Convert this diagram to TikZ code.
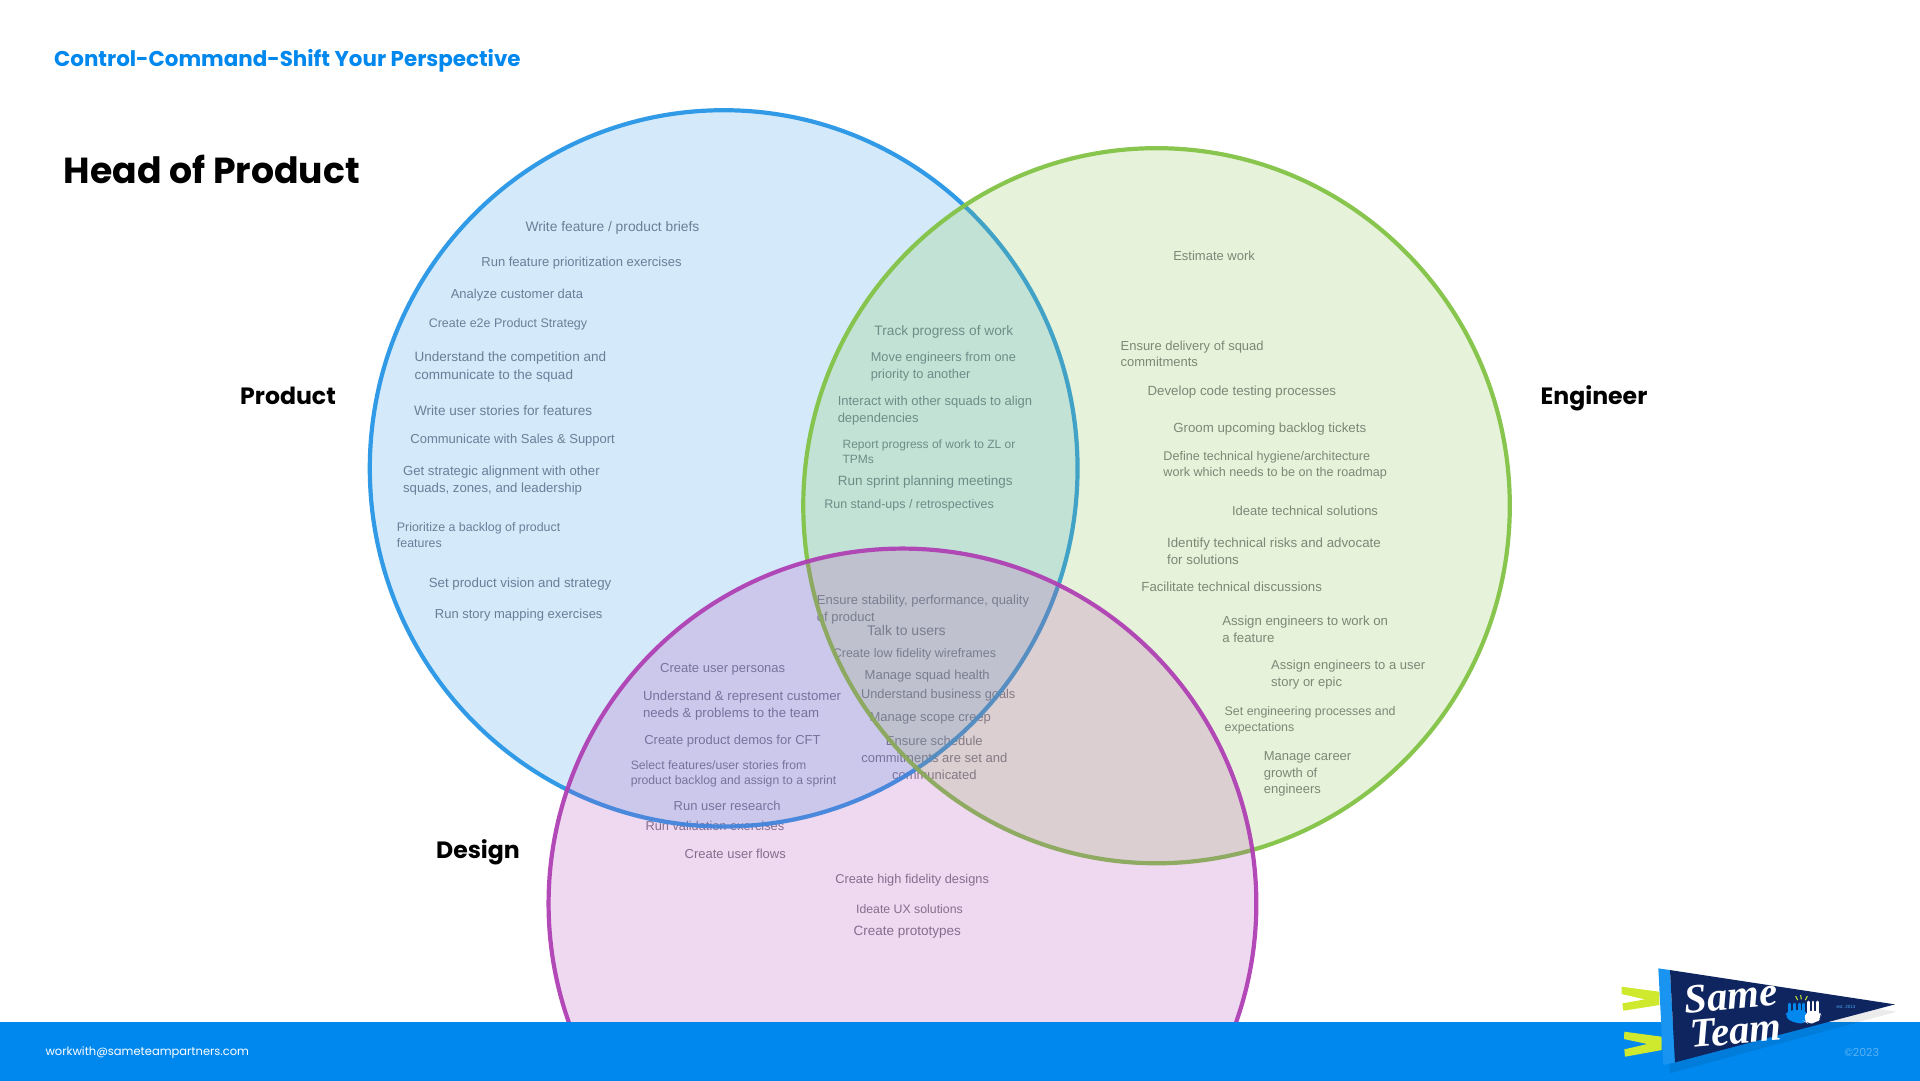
\documentclass[tikz,border=0pt]{standalone}
\usepackage{fontspec}
\setmainfont{Liberation Sans}
\newfontfamily\headfont{Poppins}
\newfontfamily\flagfont{Liberation Serif}
\usepackage{tikz}
\usetikzlibrary{calc}
\definecolor{ProductLine}{HTML}{2896E6}
\definecolor{EngineerLine}{HTML}{82C346}
\definecolor{DesignLine}{HTML}{AF41B4}
\definecolor{FooterBlue}{HTML}{0088EE}
\definecolor{TaskGrey}{HTML}{7A7A84}
\definecolor{FlagNavy}{HTML}{0F2560}
\definecolor{FlagLime}{HTML}{CFEA2E}
\tikzset{
	tasktext/.style={anchor=west, inner sep=0pt, align=left, text=TaskGrey},
	rolelabel/.style={anchor=west, inner sep=0pt, font=\headfont\fontsize{23.6}{28}\selectfont\bfseries},
	flagword/.style={text=white, rotate=5, inner sep=0pt, font=\flagfont\fontsize{41}{44}\selectfont\bfseries\itshape},
	venncircle/.style={line width=4.2pt, fill opacity=0.2, draw opacity=0.95},
}

\begin{document}
\begin{tikzpicture}[x=1.2245pt, y=-1.2245pt]
	\useasboundingbox (0,0) rectangle (1568,882);
	\fill[white] (0,0) rectangle (1568,882);
	\foreach \px/\py/\fs/\lbl [count=\i] in {
		429/186.5/13.8/{Write feature / product briefs},
		393/215/13/{Run feature prioritization exercises},
		368/241/13/{Analyze customer data},
		350/265/12.5/{Create e2e Product Strategy},
		338.5/299.5/13.5/{Understand the competition and\\communicate to the squad},
		338/335.5/13.6/{Write user stories for features},
		335/359.5/13/{Communicate with Sales \& Support},
		329/392.5/13.2/{Get strategic alignment with other\\squads, zones, and leadership},
		324/437/12.4/{Prioritize a backlog of product\\features},
		350/477/13.3/{Set product vision and strategy},
		355/502/13/{Run story mapping exercises},
		714/271.5/13.7/{Track progress of work},
		711/299.5/12.8/{Move engineers from one\\priority to another},
		684/335.5/13/{Interact with other squads to align\\dependencies},
		688/369/12/{Report progress of work to ZL or\\TPMs},
		684/394/13.5/{Run sprint planning meetings},
		673/413/12.5/{Run stand-ups / retrospectives},
		958/209/13/{Estimate work},
		915/289/13/{Ensure delivery of squad\\commitments},
		937/320.5/13.3/{Develop code testing processes},
		958/350.5/13.3/{Groom upcoming backlog tickets},
		950/380/12.6/{Define technical hygiene/architecture\\work which needs to be on the roadmap},
		1006/417/13/{Ideate technical solutions},
		953/450/13.3/{Identify technical risks and advocate\\for solutions},
		932/479/13.2/{Facilitate technical discussions},
		998/514/13.2/{Assign engineers to work on\\a feature},
		1038/551/13/{Assign engineers to a user\\story or epic},
		1000/588/12.4/{Set engineering processes and\\expectations},
		1032/632/13/{Manage career\\growth of\\engineers},
		667/498/13/{Ensure stability, performance, quality\\of product},
		708/515/14/{Talk to users},
		680/534/12.5/{Create low fidelity wireframes},
		706/552/13/{Manage squad health},
		703/568/12.8/{Understand business goals},
		710/587/13/{Manage scope creep},
		539/547/13/{Create user personas},
		525/576/13.2/{Understand \& represent customer\\needs \& problems to the team},
		526/605/13/{Create product demos for CFT},
		515/632/12.2/{Select features/user stories from\\product backlog and assign to a sprint},
		550/658.5/13/{Run user research},
		527/674.5/12.8/{Run validation exercises},
		559/697.5/13/{Create user flows},
		682/719/12.8/{Create high fidelity designs},
		699/742.5/12.3/{Ideate UX solutions},
		697/761/13.5/{Create prototypes}}
	{
		\pgfmathsetmacro\ls{\fs*1.3}
		\node[tasktext, font=\fontsize{\fs}{\ls}\selectfont] (task\i) at (\px,\py) {\lbl};
	}
	\node[tasktext, anchor=center, align=center, font=\fontsize{13}{17}\selectfont] (taskSchedule) at (763,619) {Ensure schedule\\commitments are set and\\communicated};

	% circles sit over the text
	\draw[venncircle, draw=ProductLine, fill=ProductLine] (591,382.5) ellipse (289 and 292.5);
	\draw[venncircle, draw=EngineerLine, fill=EngineerLine] (944.5,413) ellipse (288.5 and 292);
	\draw[venncircle, draw=DesignLine, fill=DesignLine] (737,738) ellipse (289 and 290);

	\fill[FooterBlue] (0,835) rectangle (1568,892);
	\node[anchor=west, inner sep=0pt, text=white, font=\headfont\fontsize{11.5}{14}\selectfont] (footerMail) at (37,859.5) {workwith@sameteampartners.com};

	\node[anchor=west, inner sep=0pt, text=FooterBlue, font=\headfont\fontsize{21.4}{26}\selectfont\bfseries] (slideTitle) at (44,50) {Control-Command-Shift Your Perspective};
	\node[anchor=west, inner sep=0pt, font=\headfont\fontsize{36.2}{44}\selectfont\bfseries] (roleTitle) at (52,138) {Head of Product};
	\node[rolelabel] (productLabel) at (196,323) {Product};
	\node[rolelabel] (engineerLabel) at (1258,325) {Engineer};
	\node[rolelabel] (designLabel) at (356,696) {Design};

	% pennant, in the pixels of a 3x crop
	\begin{scope}[shift={(1274,767.7)}, x=0.3333pt, y=-0.3333pt]
		\fill[black, opacity=0.08] (310,110) -- (1010,215) -- (330,400) -- cycle;
		\fill[FlagLime] (185,140) -- (298,155) -- (298,195) -- (190,212) -- (187,190) -- (255,178) -- (185,162) -- cycle;
		\fill[FlagLime] (193,275) -- (305,290) -- (305,330) -- (195,350) -- (193,328) -- (262,312) -- (192,297) -- cycle;
		\fill[FooterBlue!90!white] (295,85) -- (330,90) -- (345,367) -- (310,375) -- cycle;
		\fill[FlagNavy] (330,90) -- (1005,193) -- (345,367) -- cycle;
		\node[flagword] (flagSame) at (512,168) {Same};
		\node[flagword] (flagTeam) at (527,272) {Team};
		\foreach \x in {690,704,718,732}
		\draw[FooterBlue, line width=3pt, line cap=round] (\x,235) -- (\x,192);
		\fill[FooterBlue, rounded corners=6pt] (672,230) -- (686,210) -- (742,210) -- (742,250) -- (705,250) -- cycle;
		\foreach \x in {746,759,772}
		\draw[white, line width=2.8pt, line cap=round] (\x,235) -- (\x,186);
		\fill[white, rounded corners=6pt] (730,242) -- (740,212) -- (778,212) -- (786,232) -- (768,250) -- (742,250) -- cycle;
		\foreach \x/\y/\u/\v in {707/168/713/180, 722/165/724/178, 742/168/736/180}
		\draw[FlagLime, line width=1pt] (\x,\y) -- (\u,\v);
		\node[text=FooterBlue!70!white, rotate=1, inner sep=0pt, font=\fontsize{4.5}{6}\selectfont] (flagYear) at (858,200) {est. 2013};
		\node[text=white, opacity=0.35, inner sep=0pt, font=\headfont\fontsize{11}{13}\selectfont] (copyNote) at (905,337) {©2023};
	\end{scope}
\end{tikzpicture}
\end{document}
